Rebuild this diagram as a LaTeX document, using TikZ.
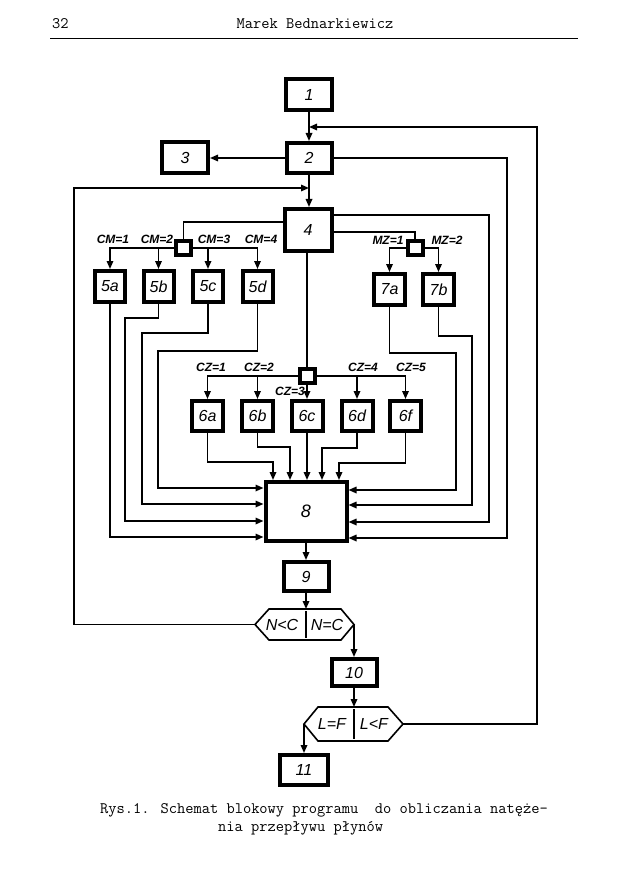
\documentclass[tikz,border=0pt]{standalone}
\usepackage{fontspec}
\setmainfont{Liberation Sans}
\usetikzlibrary{arrows.meta}
\begin{document}
\begin{tikzpicture}[x=1pt,y=-1pt,
  blk/.style={draw, line width=4pt, fill=white, inner sep=0pt, font=\fontsize{16}{16}\selectfont\itshape},
  sq/.style={draw, line width=4pt, fill=white, minimum width=15pt, minimum height=14pt, inner sep=0pt},
  con/.style={line width=1.6pt},
  arr/.style={con, -{Triangle[length=8pt,width=6.5pt]}},
  lab/.style={font=\fontsize{12}{12}\selectfont\bfseries\itshape, inner sep=0pt},
  hx/.style={line width=1.6pt},
  hxt/.style={font=\fontsize{16}{16}\selectfont\itshape, inner sep=0pt},
  tw/.style={font=\fontsize{16}{16}\selectfont\ttfamily, inner sep=0pt}
]
\useasboundingbox[fill=white] (0,0) rectangle (631,893);

% header
\node[tw, anchor=west] (pg) at (52,24) {32};
\node[tw] (hd) at (315,24) {Marek Bednarkiewicz};
\draw[line width=1pt] (50,39) -- (578,39);

% main column
\node[blk, minimum width=46pt, minimum height=31pt] (b1) at (309,94.5) {1};
\node[blk, minimum width=45pt, minimum height=30pt] (b2) at (309,158) {2};
\node[blk, minimum width=46pt, minimum height=31pt] (b3) at (185,158) {3};
\node[blk, minimum width=47pt, minimum height=42pt] (b4) at (308,230) {4};

% CM
\node[sq] (sqCM) at (183.5,248) {};
\node[blk, minimum width=30pt, minimum height=31pt] (b5a) at (110,286.5) {5a};
\node[blk, minimum width=30pt, minimum height=31pt] (b5b) at (158.5,286.5) {5b};
\node[blk, minimum width=30pt, minimum height=31pt] (b5c) at (208,286.5) {5c};
\node[blk, minimum width=30pt, minimum height=31pt] (b5d) at (257.5,286.5) {5d};
\node[lab] (lcm1) at (113,239) {CM=1};
\node[lab] (lcm2) at (157,239) {CM=2};
\node[lab] (lcm3) at (214,239) {CM=3};
\node[lab] (lcm4) at (261,239) {CM=4};

% MZ
\node[sq] (sqMZ) at (415,248) {};
\node[blk, minimum width=31pt, minimum height=31pt] (b7a) at (389.5,289.5) {7a};
\node[blk, minimum width=31pt, minimum height=31pt] (b7b) at (438.5,289.5) {7b};
\node[lab] (lmz1) at (388,240) {MZ=1};
\node[lab] (lmz2) at (447,240) {MZ=2};

% CZ
\node[sq] (sqCZ) at (307,376) {};
\node[blk, minimum width=31pt, minimum height=30pt] (b6a) at (207.5,416) {6a};
\node[blk, minimum width=31pt, minimum height=30pt] (b6b) at (257.5,416) {6b};
\node[blk, minimum width=31pt, minimum height=30pt] (b6c) at (307,416) {6c};
\node[blk, minimum width=31pt, minimum height=30pt] (b6d) at (357,416) {6d};
\node[blk, minimum width=31pt, minimum height=30pt] (b6f) at (405.5,416) {6f};
\node[lab] (lcz1) at (211,367) {CZ=1};
\node[lab] (lcz2) at (259,367) {CZ=2};
\node[lab] (lcz3) at (290,391) {CZ=3};
\node[lab] (lcz4) at (363,367) {CZ=4};
\node[lab] (lcz5) at (411,367) {CZ=5};

% 8 and below
\node[blk, minimum width=81pt, minimum height=59pt, font=\fontsize{18}{18}\selectfont\itshape] (b8) at (306,511.5) {8};
\node[blk, minimum width=45pt, minimum height=29pt] (b9) at (306,576.5) {9};
\node[blk, minimum width=45pt, minimum height=27pt] (b10) at (354,672.5) {10};
\node[blk, minimum width=48pt, minimum height=30pt] (b11) at (304,770) {11};

% hexagon 1
\coordinate (h1l) at (255,624.5);
\coordinate (h1r) at (354,624.5);
\coordinate (h1t) at (306,609);
\draw[hx, fill=white] (h1l) -- (269,609) -- (341,609) -- (h1r) -- (341,640) -- (269,640) -- cycle;
\draw[line width=2.6pt] (306,611) -- (306,638);
\node[hxt] (tnc1) at (282,624.5) {N<C};
\node[hxt] (tnc2) at (327,624.5) {N=C};

% hexagon 2
\coordinate (h2l) at (304,724);
\coordinate (h2r) at (403,724);
\coordinate (h2t) at (354,707);
\draw[hx, fill=white] (h2l) -- (318,707) -- (388,707) -- (h2r) -- (388,741) -- (318,741) -- cycle;
\draw[line width=2.6pt] (354,709) -- (354,739);
\node[hxt] (tlf1) at (332,724) {L=F};
\node[hxt] (tlf2) at (374,724) {L<F};

% junctions
\coordinate (j1) at (309,127);
\coordinate (j2) at (309,188);

% connectors main column
\draw[arr] (b1) -- (b2);
\draw[arr] (b2) -- (b4.north -| b2);
\draw[arr] (b2.west) -- (b3.east);
\draw[arr] (h2r) -- (537,0 |- h2r) -- (537,0 |- j1) -- (j1);
\draw[arr] (h1l) -- (74,0 |- h1l) -- (74,0 |- j2) -- (j2);

% CM branch
\draw[con] (b4.west |- 0,222) -| (sqCM.north);
\draw[arr] (sqCM.west) -| (b5a.north);
\draw[arr] (b5b.north |- sqCM) -- (b5b.north);
\draw[arr] (sqCM.east) -| (b5d.north);
\draw[arr] (b5c.north |- sqCM) -- (b5c.north);

% MZ branch
\draw[con] (b4.east |- 0,232) -| (sqMZ.north);
\draw[arr] (sqMZ.west) -| (b7a.north);
\draw[arr] (sqMZ.east) -| (b7b.north);

% CZ branch
\draw[con] (sqCZ.north |- b4.south) -- (sqCZ.north);
\draw[arr] (sqCZ.west) -| (b6a.north);
\draw[arr] (b6b.north |- sqCZ) -- (b6b.north);
\draw[arr] (sqCZ.south) -- (b6c.north);
\draw[arr] (sqCZ.east) -| (b6f.north);
\draw[arr] (b6d.north |- sqCZ) -- (b6d.north);

% into 8 from left
\draw[arr] (b5a.south) |- (b8.west |- 0,537);
\draw[arr] (b5b.south) |- (125,318) |- (b8.west |- 0,521);
\draw[arr] (b5c.south) |- (142,333) |- (b8.west |- 0,504);
\draw[arr] (b5d.south) |- (158,351) |- (b8.west |- 0,488);

% into 8 from right
\draw[arr] (b7a.south) |- (456,353) |- (b8.east |- 0,490);
\draw[arr] (b7b.south) |- (472,336) |- (b8.east |- 0,505);
\draw[arr] (b4.east |- 0,215) -| (489,522) -- (b8.east |- 0,522);
\draw[arr] (b2.east) -| (507,538) -- (b8.east |- 0,538);

% into 8 from top
\draw[arr] (b6a.south) |- (273,462) -- (273,0 |- b8.north);
\draw[arr] (b6b.south) |- (290,447) -- (290,0 |- b8.north);
\draw[arr] (b6c.south) -- (b6c.south |- b8.north);
\draw[arr] (b6d.south) |- (322,448) -- (322,0 |- b8.north);
\draw[arr] (b6f.south) |- (339,463) -- (339,0 |- b8.north);

% lower
\draw[arr] (b8) -- (b9);
\draw[arr] (b9) -- (h1t);
\draw[arr] (h1r) -- (b10.north);
\draw[arr] (b10) -- (h2t);
\draw[arr] (h2l) -- (b11.north);

% caption
\node[tw, anchor=west] (c1) at (100,810) {Rys.1. Schemat blokowy programu\ \ do obliczania natęże-};
\node[tw, anchor=west] (c2) at (218,828) {nia przepływu płynów};
\end{tikzpicture}
\end{document}
